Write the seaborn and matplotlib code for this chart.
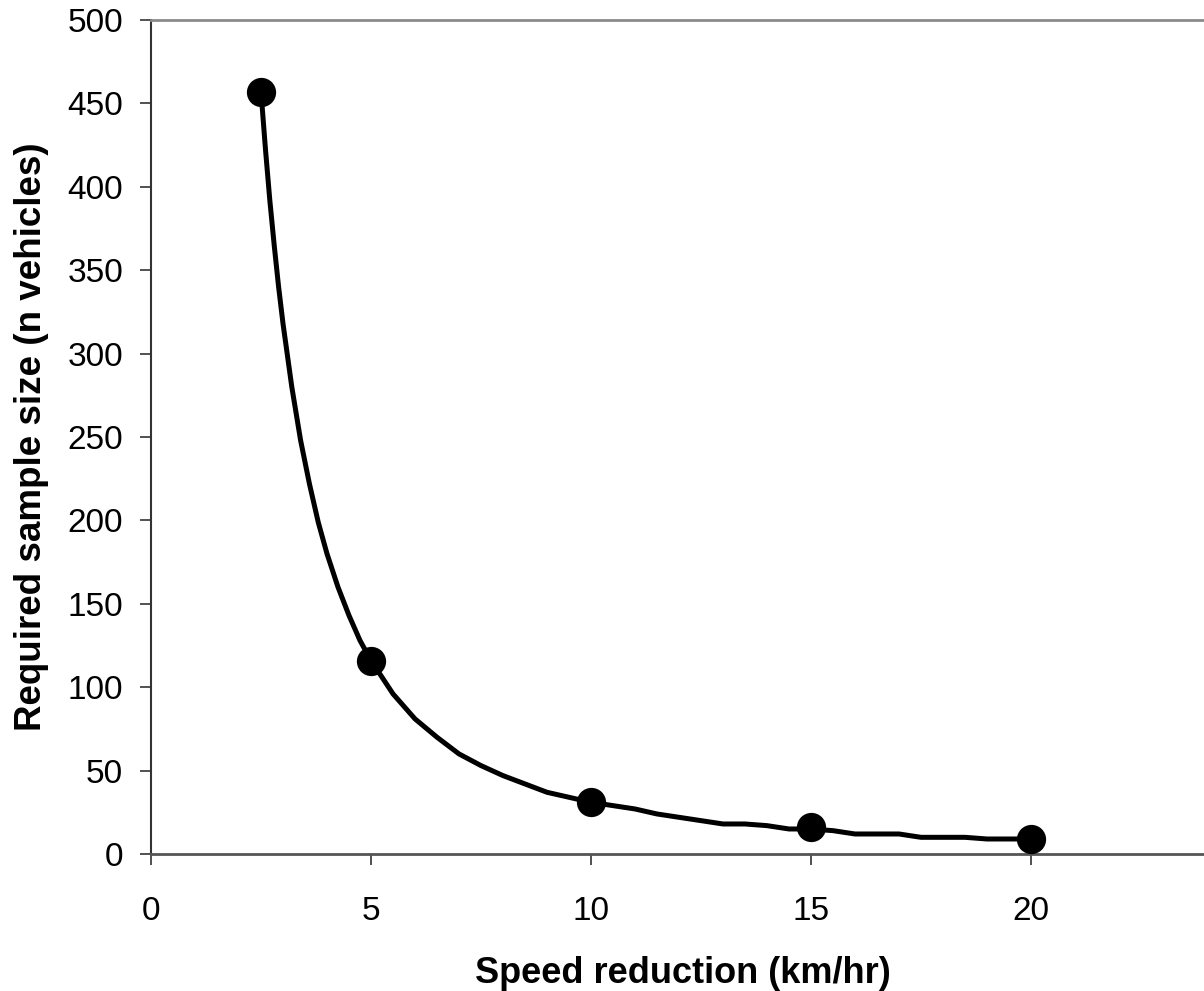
import pandas as pd
import matplotlib
matplotlib.use("Agg")
import matplotlib.pyplot as plt
import seaborn as sns

# curve
speed_curve = [2.5, 2.6, 2.7, 2.8, 2.9, 3.0, 3.2, 3.4, 3.6, 3.8, 4.0, 4.25, 4.5, 4.75,
               5.0, 5.5, 6.0, 6.5, 7.0, 7.5, 8.0, 8.5, 9.0, 9.5, 10.0, 10.5, 11.0, 11.5,
               12.0, 12.5, 13.0, 13.5, 14.0, 14.5, 15.0, 15.5, 16.0, 16.5, 17.0, 17.5,
               18.0, 18.5, 19.0, 19.5, 20.0]
n_curve = [457, 423, 392, 365, 340, 318, 280, 248, 222, 199, 180, 160, 143, 128,
           116, 96, 81, 70, 60, 53, 47, 42, 37, 34, 31, 29, 27, 24,
           22, 20, 18, 18, 17, 15, 15, 14, 12, 12, 12, 10,
           10, 10, 9, 9, 9]

# marked points
speed_pts = [2.5, 5, 10, 15, 20]
n_pts = [457, 116, 31, 16, 9]

x_ticks = [0, 5, 10, 15, 20]
y_ticks = [0, 50, 100, 150, 200, 250, 300, 350, 400, 450, 500]

curve = pd.DataFrame({"speed": speed_curve, "n": n_curve})
pts = pd.DataFrame({"speed": speed_pts, "n": n_pts})

sns.set_style("white")
plt.rcParams["font.family"] = ["Liberation Sans", "DejaVu Sans"]
plt.rcParams["text.color"] = "black"
plt.rcParams["axes.labelcolor"] = "black"
plt.rcParams["xtick.labelcolor"] = "black"
plt.rcParams["ytick.labelcolor"] = "black"

fig = plt.figure(figsize=(12.04, 9.91), dpi=100)
ax = fig.add_axes([151 / 1204, 1 - 854 / 991, 1 - 151 / 1204, (854 - 20) / 991])

sns.lineplot(data=curve, x="speed", y="n", sort=False, estimator=None,
             color="black", linewidth=3.6, ax=ax)
sns.scatterplot(data=pts, x="speed", y="n", s=380, color="black",
                edgecolor="black", zorder=3, ax=ax)

ax.set_xlim(0, (1204 - 151) / 44)
ax.set_ylim(0, 500)
ax.set_xticks(x_ticks)
ax.set_yticks(y_ticks)
ax.tick_params(axis="both", direction="out", length=8, width=1.2, color="#333333",
               labelsize=24, left=True, bottom=True, labelcolor="black")
ax.tick_params(axis="y", pad=12)
ax.tick_params(axis="x", pad=22)

ax.spines["left"].set_color("#333333")
ax.spines["left"].set_linewidth(1.5)
ax.spines["bottom"].set_color("#555555")
ax.spines["bottom"].set_linewidth(2)
ax.spines["top"].set_color("#8a8a8a")
ax.spines["top"].set_linewidth(2)
ax.spines["right"].set_visible(False)

ax.set_xlabel("Speed reduction (km/hr)", fontsize=26, fontweight="bold", labelpad=21)
ax.set_ylabel("Required sample size (n vehicles)", fontsize=26.5, fontweight="bold", labelpad=13)
ax.xaxis.label.set_x(0.505)

fig.savefig("out.png", dpi=100)
